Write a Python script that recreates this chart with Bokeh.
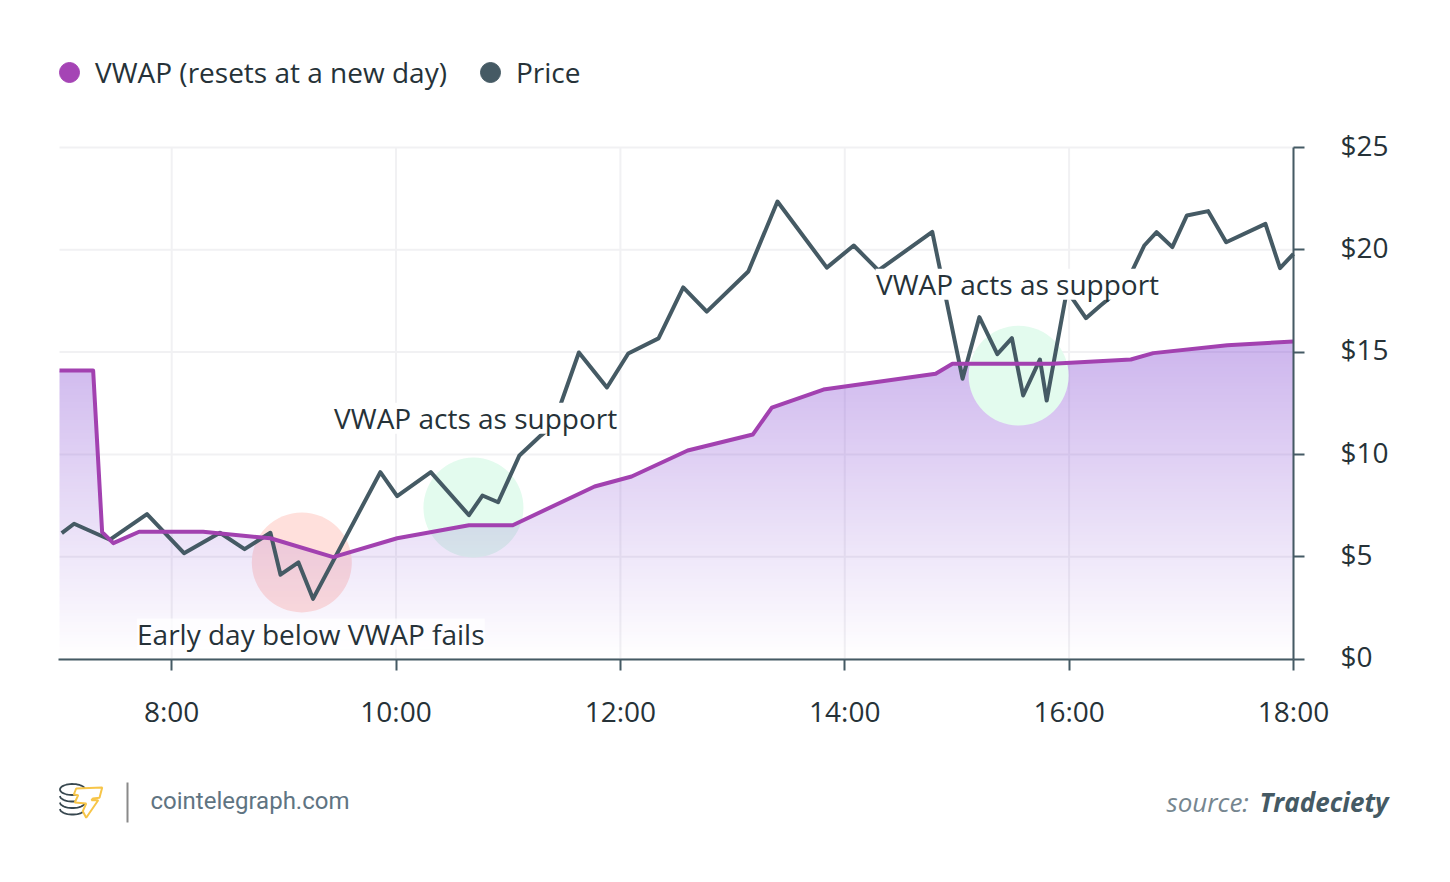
import numpy as np
from bokeh.plotting import figure
from bokeh.models import Label, Legend, LegendItem, FixedTicker, LinearAxis, Range1d
from bokeh.embed import file_html
from bokeh.resources import INLINE

price_h = [7.02,7.13,7.45,7.78,8.11,8.43,8.65,8.88,8.97,9.13,9.26,9.86,10.01,10.31,10.65,10.77,10.91,11.10,11.29,11.40,11.63,11.88,12.07,12.34,12.56,12.77,13.14,13.40,13.84,14.08,14.30,14.78,15.05,15.20,15.36,15.49,15.59,15.74,15.80,15.98,16.15,16.28,16.39,16.55,16.67,16.78,16.92,17.05,17.24,17.40,17.75,17.88,18.00]
price_v = [6.15,6.61,5.83,7.08,5.17,6.17,5.37,6.17,4.12,4.72,2.94,9.13,7.96,9.13,7.03,7.99,7.66,9.95,10.92,11.41,14.98,13.27,14.93,15.67,18.16,16.98,18.94,22.36,19.13,20.21,18.99,20.88,13.70,16.71,14.90,15.68,12.88,14.64,12.63,18.01,16.66,17.28,17.77,18.83,20.21,20.86,20.13,21.68,21.89,20.37,21.27,19.10,19.80]
vwap_h = [7.00,7.30,7.38,7.48,7.71,8.28,8.88,9.44,10.01,10.65,11.04,11.77,12.10,12.60,13.18,13.35,13.81,14.81,14.96,15.85,16.55,16.75,17.41,18.00]
vwap_v = [14.10,14.10,6.20,5.66,6.22,6.22,5.90,4.98,5.90,6.54,6.54,8.43,8.92,10.19,10.97,12.29,13.17,13.94,14.43,14.43,14.64,14.95,15.34,15.52]
x_ticks = [8,10,12,14,16,18]
x_labels = ["8:00","10:00","12:00","14:00","16:00","18:00"]
y_ticks = [0,5,10,15,20,25]
y_labels = ["$0","$5","$10","$15","$20","$25"]
red_zone = (9.16, 4.72)
green_zones = [(10.69, 7.40), (15.55, 13.85)]
notes = [("Early day below VWAP fails", 9.24, 1.22, 348),
         ("VWAP acts as support", 10.71, 11.77, 284),
         ("VWAP acts as support", 15.54, 18.32, 284)]

FONT = "Open Sans"
TXT = "#263238"
SLATE = "#455a64"
PURPLE = "#a241b0"
W, H = 1440, 874
L, B = 59.0, 658.5     # page position of 7:00 and of $0
SX, SY = 112.18, 20.46 # pixels per hour and per dollar

def dx(px): return 7 + (px-L)/SX
def dy(py): return (B-py)/SY

p = figure(width=W, height=H, x_range=(dx(0), dx(W)), y_range=(dy(H), dy(0)),
           output_backend="svg", toolbar_location=None, y_axis_location="right",
           min_border=0, outline_line_color=None,
           background_fill_color="white", border_fill_color="white")
p.grid.visible = False

def style(ax, ticks, st, loc, bnd):
    ax.ticker = FixedTicker(ticks=ticks)
    ax.fixed_location = loc
    ax.bounds = bnd
    ax.axis_line_color = SLATE
    ax.axis_line_width = 2
    ax.major_tick_line_color = SLATE
    ax.major_tick_line_width = 2
    ax.major_tick_out = 11
    ax.major_tick_in = 0
    ax.minor_tick_line_color = None
    ax.major_label_text_font = FONT
    ax.major_label_text_font_size = "28px"
    ax.major_label_text_color = TXT
    ax.major_label_standoff = st

style(p.xaxis[0], x_ticks, 22, 0, (dx(57.5), 18))
p.xaxis[0].major_label_overrides = dict(zip(x_ticks, x_labels))
style(p.yaxis[0], y_ticks, 36, 18, (0, 25))
p.yaxis[0].major_label_overrides = {t: "" for t in y_ticks}

# the $ labels sit a little above their ticks: a label-only axis on a nudged range
NUDGE = 2.8
p.extra_y_ranges = {"labels": Range1d(dy(H)-NUDGE/SY, dy(0)-NUDGE/SY)}
lab_ax = LinearAxis(y_range_name="labels")
style(lab_ax, y_ticks, 36, 18, (0, 25))
lab_ax.major_label_overrides = dict(zip(y_ticks, y_labels))
lab_ax.axis_line_color = None
lab_ax.major_tick_line_color = None
p.add_layout(lab_ax, "right")

# grid
p.segment(x_ticks, [0]*6, x_ticks, [25]*6, line_color="#f1f1f3", line_width=2)
p.segment([7]*6, y_ticks, [18]*6, y_ticks, line_color="#f1f1f3", line_width=2)

# first two zones lie under the area wash
p.scatter([red_zone[0]], [red_zone[1]], size=100, color="#ffe0dc", line_color=None)
p.scatter([green_zones[0][0]], [green_zones[0][1]], size=100, color="#e3fbee", line_color=None)

# vertical gradient under the VWAP line, as a translucent raster
TOP, AMAX = 15.6, 0.40
cols, rows = int(11*SX), int(TOP*SY)
hh = 7 + (np.arange(cols)+0.5)*11/cols
vv = (np.arange(rows)+0.5)*TOP/rows
edge = np.interp(hh, vwap_h, vwap_v)
img = np.zeros((rows, cols, 4), dtype=np.uint8)
img[..., 0], img[..., 1], img[..., 2] = 130, 70, 210
img[..., 3] = np.where(vv[:, None] <= edge[None, :], np.round(255*AMAX*vv[:, None]/15.5), 0)
rgba = img.view(np.uint32).reshape(rows, cols)
p.image_rgba(image=[rgba], x=7, y=0, dw=11, dh=TOP)

p.scatter([green_zones[1][0]], [green_zones[1][1]], size=100, color="#e3fbee", line_color=None)

price_line = p.line(price_h, price_v, line_color=SLATE, line_width=4, line_join="round")
vwap_line = p.line(vwap_h, vwap_v, line_color=PURPLE, line_width=4, line_join="round")

for i, (text, x, y, w) in enumerate(notes):
    p.rect(x=[x], y=[y], width=w, height=31, width_units="screen", height_units="screen",
           fill_color="white", fill_alpha=0.75 if i == 0 else 1, line_color=None)
    p.add_layout(Label(x=x, y=y, text=text, text_font=FONT, text_font_size="28px", text_color=TXT,
                       text_align="center", text_baseline="middle"))

# legend
nan = float("nan")
d1 = p.scatter([nan], [nan], marker="circle", color="#a544b5")
d2 = p.scatter([nan], [nan], marker="circle", color=SLATE)
leg = Legend(items=[LegendItem(label="VWAP (resets at a new day)", renderers=[d1]),
                    LegendItem(label="Price", renderers=[d2])],
             orientation="horizontal", location=(44, H-97),
             glyph_width=50, glyph_height=50, label_standoff=1, spacing=18,
             padding=0, margin=0, border_line_color=None, background_fill_alpha=0,
             label_text_font=FONT, label_text_font_size="28px", label_text_color=TXT)
p.add_layout(leg)

# footer
def page_label(px, py, text, **kw):
    p.add_layout(Label(x=dx(px), y=dy(py), text=text, text_baseline="middle", **kw))
page_label(150, 800, "cointelegraph.com", text_font="Roboto", text_font_size="24px", text_color="#5f7482")
page_label(1166, 801, "source:", text_font=FONT, text_font_style="italic", text_font_size="26px", text_color="#76868f")
page_label(1259, 801, "Tradeciety", text_font=FONT, text_font_style="bold italic", text_font_size="26px", text_color=SLATE)

# logo
p.segment([dx(127)], [dy(782)], [dx(127)], [dy(822)], line_color="#8a8a8a", line_width=2)
t = np.linspace(0, 2*np.pi, 40)
p.line(dx(72+12.5*np.cos(t)), dy(789+5.5*np.sin(t)), line_color="#37474f", line_width=1.8)
t2 = np.linspace(0, np.pi, 20)
for off in (6.5, 13, 19.5):
    p.line(dx(72+12.5*np.cos(t2)), dy(789+off+5.5*np.sin(t2)), line_color="#37474f", line_width=1.8)
p.patch(dx(np.array([75.7,101.7,99,92.3,91,97.7,85.7,82.3,85.7,74.3,77.7,73.3])),
        dy(np.array([788,787,797.3,798,799.7,799.7,817.3,810.7,803,802,794.7,794])),
        fill_color="white", line_color="#f7c548", line_width=2)

open("out.html", "w").write(file_html(p, INLINE))
